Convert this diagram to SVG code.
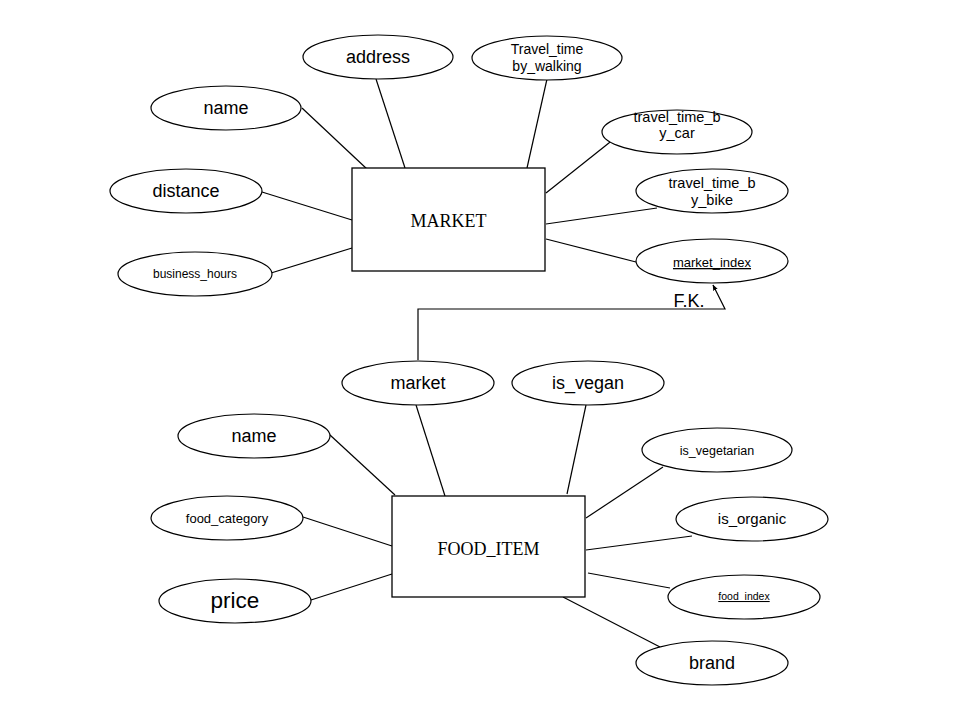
<svg xmlns="http://www.w3.org/2000/svg" width="960" height="720" viewBox="0 0 960 720">
<style>
.bg{fill:#ffffff}
.ent{fill:#ffffff;stroke:#000000;stroke-width:1.3}
.att{fill:#ffffff;stroke:#000000;stroke-width:1.2}
.ln{stroke:#000000;stroke-width:1.2;fill:none}
.et{font-family:"Liberation Serif","Times New Roman",serif;font-size:18px;fill:#000000;text-anchor:middle}
.t{font-family:"Liberation Sans",Arial,sans-serif;fill:#000000;text-anchor:middle}
.u{text-decoration:underline}
</style>
<defs>
<marker id="arr" viewBox="0 0 10 10" refX="9" refY="5" markerWidth="6" markerHeight="6" orient="auto" markerUnits="userSpaceOnUse">
<path d="M0,1 L10,5 L0,9 Z" fill="#000000"/>
</marker>
</defs>
<rect class="bg" x="0" y="0" width="960" height="720"/>
<g id="connectors">
<line class="ln" x1="302" y1="108" x2="368" y2="170"/>
<line class="ln" x1="376" y1="79" x2="405" y2="168"/>
<line class="ln" x1="262" y1="192" x2="352" y2="220"/>
<line class="ln" x1="271" y1="273" x2="352" y2="248"/>
<line class="ln" x1="547" y1="79" x2="527" y2="168"/>
<line class="ln" x1="624" y1="131" x2="546" y2="193"/>
<line class="ln" x1="657" y1="208" x2="546" y2="224"/>
<line class="ln" x1="636" y1="262" x2="546" y2="239"/>
<polyline class="ln" points="418,360 418,309 725,309 713,285" marker-end="url(#arr)"/>
<line class="ln" x1="330" y1="435" x2="395" y2="495"/>
<line class="ln" x1="416" y1="405" x2="445" y2="496"/>
<line class="ln" x1="586" y1="405" x2="567" y2="494"/>
<line class="ln" x1="303" y1="517" x2="392" y2="546"/>
<line class="ln" x1="311" y1="600" x2="392" y2="574"/>
<line class="ln" x1="663" y1="467" x2="586" y2="518"/>
<line class="ln" x1="692" y1="536" x2="586" y2="550"/>
<line class="ln" x1="670" y1="588" x2="588" y2="573"/>
<line class="ln" x1="660" y1="647" x2="563" y2="597"/>
</g>
<text class="t" x="689" y="307" font-size="18">F.K.</text>
<g id="market">
<rect class="ent" x="352" y="168" width="193" height="103"/>
<text class="et" x="448.5" y="227">MARKET</text>
</g>
<g id="m_name"><ellipse class="att" cx="226" cy="108" rx="75" ry="22"/><text class="t" x="226" y="114" font-size="18">name</text></g>
<g id="m_address"><ellipse class="att" cx="378" cy="57" rx="75" ry="22"/><text class="t" x="378" y="63" font-size="18">address</text></g>
<g id="m_distance"><ellipse class="att" cx="186" cy="191" rx="76" ry="22"/><text class="t" x="186" y="197" font-size="18">distance</text></g>
<g id="m_business_hours"><ellipse class="att" cx="195" cy="274" rx="77" ry="22"/><text class="t" x="195" y="278" font-size="12">business_hours</text></g>
<g id="m_walking"><ellipse class="att" cx="547" cy="58" rx="75" ry="22"/><text class="t" x="547" y="54" font-size="14">Travel_time</text><text class="t" x="547" y="71" font-size="14">by_walking</text></g>
<g id="m_car"><ellipse class="att" cx="677" cy="132" rx="75" ry="22"/><text class="t" x="677" y="122" font-size="14.5">travel_time_b</text><text class="t" x="677" y="138" font-size="14.5">y_car</text></g>
<g id="m_bike"><ellipse class="att" cx="712" cy="191" rx="76" ry="22"/><text class="t" x="712" y="188" font-size="14.5">travel_time_b</text><text class="t" x="712" y="205" font-size="14.5">y_bike</text></g>
<g id="m_market_index"><ellipse class="att" cx="712" cy="261" rx="76" ry="22"/><text class="t u" x="712" y="267" font-size="13">market_index</text></g>
<g id="food_item">
<rect class="ent" x="392" y="496" width="193" height="101"/>
<text class="et" x="488.5" y="555">FOOD_ITEM</text>
</g>
<g id="f_market"><ellipse class="att" cx="418" cy="383" rx="76" ry="22"/><text class="t" x="418" y="389" font-size="18">market</text></g>
<g id="f_is_vegan"><ellipse class="att" cx="588" cy="383" rx="76" ry="22"/><text class="t" x="588" y="389" font-size="18">is_vegan</text></g>
<g id="f_name"><ellipse class="att" cx="254" cy="436" rx="76" ry="22"/><text class="t" x="254" y="442" font-size="18">name</text></g>
<g id="f_food_category"><ellipse class="att" cx="227" cy="518" rx="76" ry="22"/><text class="t" x="227" y="523" font-size="13">food_category</text></g>
<g id="f_price"><ellipse class="att" cx="235" cy="601" rx="76" ry="22"/><text class="t" x="235" y="608" font-size="22.5">price</text></g>
<g id="f_is_vegetarian"><ellipse class="att" cx="717" cy="450" rx="75" ry="22"/><text class="t" x="717" y="455" font-size="12.5">is_vegetarian</text></g>
<g id="f_is_organic"><ellipse class="att" cx="752" cy="519" rx="76" ry="22"/><text class="t" x="752" y="524" font-size="15">is_organic</text></g>
<g id="f_food_index"><ellipse class="att" cx="744" cy="597" rx="76" ry="22"/><text class="t u" x="744" y="600" font-size="10.5">food_index</text></g>
<g id="f_brand"><ellipse class="att" cx="712" cy="663" rx="76" ry="22"/><text class="t" x="712" y="669" font-size="18">brand</text></g>
</svg>
